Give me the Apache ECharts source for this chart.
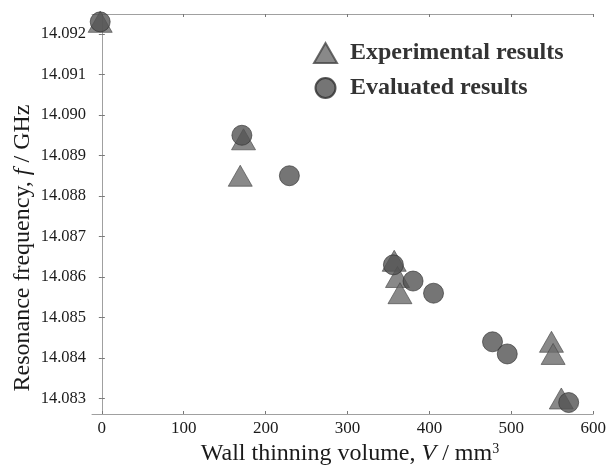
<!DOCTYPE html>
<html>
<head>
<meta charset="utf-8">
<script src="https://cdn.jsdelivr.net/npm/echarts@6/dist/echarts.min.js"></script>
<style>
html,body{margin:0;padding:0;background:#fff;}
#chart{width:609px;height:466px;}
</style>
</head>
<body>
<div id="chart"></div>
<script>
// ---- data ----
const expX  = [-2, 173, 169, 357, 361, 364, 549, 551, 561];
const expY  = [14.0923, 14.0894, 14.0885, 14.0864, 14.0860, 14.0856, 14.0844, 14.0841, 14.0830];
const evalX = [-2, 171, 229, 356, 380, 405, 477, 495, 570];
const evalY = [14.0923, 14.0895, 14.0885, 14.0863, 14.0859, 14.0856, 14.0844, 14.0841, 14.0829];
const xTicks = [0, 100, 200, 300, 400, 500, 600];
const yTicks = [14.083, 14.084, 14.085, 14.086, 14.087, 14.088, 14.089, 14.090, 14.091, 14.092];
const seriesNames = ['Experimental results', 'Evaluated results'];

const FONT = "'Liberation Serif', 'DejaVu Serif', serif";
const frameColor = '#a0a0a0';

function pairs(xs, ys){ return xs.map((x,i)=>[x, ys[i]]); }

const chart = echarts.init(document.getElementById('chart'), null, {renderer:'canvas'});

const axisCommonX = {
  type:'value', min:-12, max:600,
  axisLine:{show:true, lineStyle:{color:frameColor, width:1}},
  axisTick:{show:true, inside:true, length:3, customValues:xTicks, lineStyle:{color:'#777'}},
  splitLine:{show:false}
};
const axisCommonY = {
  type:'value', min:14.082617, max:14.092494,
  axisLine:{show:true, lineStyle:{color:frameColor, width:1}},
  axisTick:{show:true, inside:true, length:3, customValues:yTicks, lineStyle:{color:'#777'}},
  splitLine:{show:false}
};

const option = {
  backgroundColor:'#fff',
  animation:false,
  grid:{left:92, right:14, top:14, bottom:52, containLabel:false},
  xAxis:[
    Object.assign({}, axisCommonX, {
      position:'bottom',
      axisLabel:{show:true, customValues:xTicks, margin:6, color:'#1a1a1a', fontFamily:FONT, fontSize:17,
        formatter:v=>String(v)}
    }),
    Object.assign({}, axisCommonX, {position:'top', axisLabel:{show:false}})
  ],
  yAxis:[
    Object.assign({}, axisCommonY, {
      position:'left',
      axisLabel:{show:true, customValues:yTicks, margin:6, color:'#1a1a1a', fontFamily:FONT, fontSize:16.5,
        formatter:v=>Number(v).toFixed(3)}
    }),
    Object.assign({}, axisCommonY, {position:'right', axisLabel:{show:false}})
  ],
  legend:{
    orient:'vertical', left:308, top:36,
    itemWidth:23, itemHeight:20, itemGap:11,
    data:seriesNames,
    textStyle:{fontFamily:FONT, fontSize:24, fontWeight:'bold', color:'#333', padding:[0,0,0,8]}
  },
  series:[
    {
      name:seriesNames[0], type:'scatter', xAxisIndex:0, yAxisIndex:0,
      symbol:'triangle', symbolSize:[24,21],
      itemStyle:{color:'#6c6c6c', borderColor:'#474747', borderWidth:0.8},
      data:pairs(expX, expY), z:2
    },
    {
      name:seriesNames[1], type:'scatter', xAxisIndex:0, yAxisIndex:0,
      symbol:'circle', symbolSize:20,
      itemStyle:{color:'#525252', borderColor:'#2e2e2e', borderWidth:0.8},
      data:pairs(evalX, evalY), z:3
    }
  ],
  graphic:[
    {
      type:'text', x:350, y:454,
      style:{
        text:'{a|Wall thinning volume, }{i|V}{a| / mm}{s|3}',
        textAlign:'center', textVerticalAlign:'middle',
        rich:{
          a:{fontFamily:FONT, fontSize:24, fill:'#1a1a1a'},
          i:{fontFamily:FONT, fontSize:24, fontStyle:'italic', fill:'#1a1a1a'},
          s:{fontFamily:FONT, fontSize:14, fill:'#1a1a1a', verticalAlign:'top'}
        }
      }
    },
    {
      type:'text', x:23, y:248, rotation:Math.PI/2,
      style:{
        text:'{a|Resonance frequency, }{i|f}{a| / GHz}',
        textAlign:'center', textVerticalAlign:'middle',
        rich:{
          a:{fontFamily:FONT, fontSize:24, fill:'#1a1a1a'},
          i:{fontFamily:FONT, fontSize:24, fontStyle:'italic', fill:'#1a1a1a'}
        }
      }
    }
  ]
};
chart.setOption(option);
</script>
</body>
</html>
